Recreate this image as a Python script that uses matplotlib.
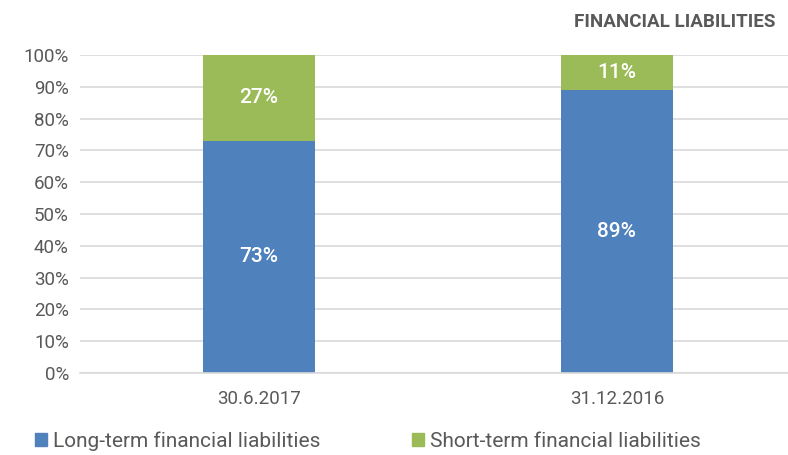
import matplotlib
matplotlib.use("Agg")
import matplotlib.pyplot as plt
from matplotlib import font_manager
from matplotlib.patches import Patch

names = {f.name for f in font_manager.fontManager.ttflist}
fam = "Liberation Sans Narrow" if "Liberation Sans Narrow" in names else "Roboto"
plt.rcParams['font.family'] = [fam, 'DejaVu Sans']

categories = ["30.6.2017", "31.12.2016"]
long_term = [73, 89]
short_term = [27, 11]
series_names = ["Long-term financial liabilities", "Short-term financial liabilities"]
colors = ["#4F81BD", "#9BBB59"]
yticks = list(range(0, 101, 10))

fig = plt.figure(figsize=(7.88, 4.55), dpi=100)
ax = fig.add_axes([80/788, 1-373/455, 708/788, 318/455])

x = list(range(len(categories)))
w = 0.313
ax.bar(x, long_term, width=w, color=colors[0], zorder=2)
ax.bar(x, short_term, width=w, bottom=long_term, color=colors[1], zorder=2)
for i in x:
    ax.text(i, long_term[i]/2, f"{long_term[i]}%", ha="center", va="center",
            color="white", fontsize=15, fontweight="medium")
    ax.text(i, long_term[i] + short_term[i]/2, f"{short_term[i]}%", ha="center", va="center",
            color="white", fontsize=15, fontweight="medium")

ax.set_ylim(0, 100)
ax.set_xlim(-0.5, 1.478)
ax.set_yticks(yticks)
ax.set_yticklabels([f"{v}%" for v in yticks])
ax.set_xticks(x)
ax.set_xticklabels(categories)
ax.tick_params(axis="both", length=0, labelsize=13.5, colors="#595959")
ax.tick_params(axis="x", pad=12)
ax.tick_params(axis="y", pad=8)
ax.grid(axis="y", color="#D9D9D9", linewidth=1.2, zorder=0)
for s in ["top", "right", "left"]:
    ax.spines[s].set_visible(False)
ax.spines["bottom"].set_color("#D9D9D9")
ax.spines["bottom"].set_linewidth(1.2)

fig.text(775/788, 1-22/455, "FINANCIAL LIABILITIES", ha="right", va="center",
         fontsize=13.5, fontweight="bold", color="#595959")

handles = [Patch(color=c) for c in colors]
fig.legend(handles, series_names, loc="center", bbox_to_anchor=(368/788, 1-441/455),
           ncol=2, frameon=False, fontsize=15, handlelength=0.55, handleheight=0.55,
           handletextpad=0.3, columnspacing=4.4, labelcolor="#595959")

fig.savefig("out.png", dpi=100)
